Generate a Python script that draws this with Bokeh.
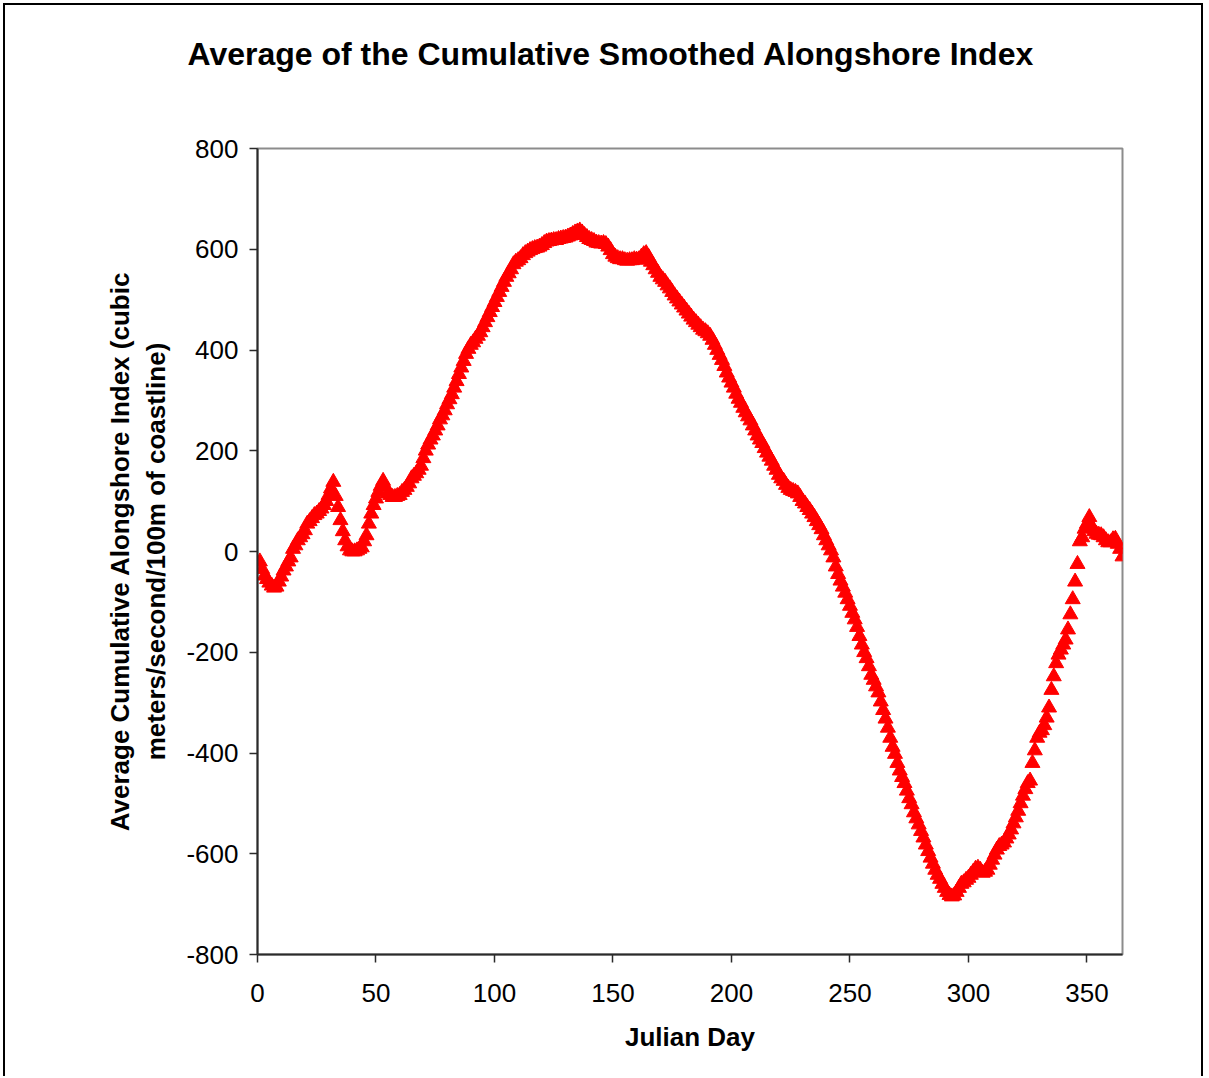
from bokeh.plotting import figure
from bokeh.models import Range1d, FixedTicker, Title, CustomJSTickFormatter
from bokeh.embed import file_html
from bokeh.resources import INLINE

# ---------------- data ----------------
julian_day = list(range(1, 366))

cumulative_index = [
    # 1-10
    -20, -35, -48, -55, -62, -68, -72, -70, -60, -50,
    # 11-20
    -38, -30, -20, -12, 5, 12, 22, 28, 34, 42,
    # 21-30
    55, 60, 66, 72, 75, 80, 85, 92, 100, 112,
    # 31-40
    125, 138, 110, 88, 62, 40, 22, 10, 2, 0,
    # 41-50
    0, 2, 5, 8, 20, 32, 55, 75, 92, 105,
    # 51-60
    118, 130, 140, 128, 115, 112, 108, 108, 110, 112,
    # 61-70
    118, 122, 128, 135, 145, 150, 155, 162, 170, 185,
    # 71-80
    200, 212, 222, 230, 240, 250, 262, 270, 280, 292,
    # 81-90
    302, 312, 325, 338, 352, 365, 378, 392, 402, 410,
    # 91-100
    415, 422, 428, 435, 445, 455, 465, 475, 485, 495,
    # 101-110
    505, 515, 525, 535, 545, 552, 560, 570, 575, 578,
    # 111-120
    582, 588, 592, 595, 598, 600, 602, 603, 605, 608,
    # 121-130
    612, 615, 616, 617, 618, 618, 620, 621, 622, 623,
    # 131-140
    625, 627, 630, 633, 635, 637, 633, 628, 624, 620,
    # 141-150
    618, 616, 613, 612, 611, 612, 610, 605, 598, 590,
    # 151-160
    585, 582, 580, 580, 578, 577, 578, 578, 580, 579,
    # 161-170
    580, 585, 590, 592, 585, 575, 568, 560, 553, 545,
    # 171-180
    540, 535, 528, 522, 515, 508, 502, 496, 490, 484,
    # 181-190
    478, 472, 466, 460, 455, 450, 445, 440, 437, 433,
    # 191-200
    428, 420, 410, 400, 390, 380, 368, 355, 345, 335,
    # 201-210
    325, 313, 303, 295, 285, 276, 268, 260, 250, 240,
    # 211-220
    230, 222, 215, 205, 196, 188, 180, 170, 162, 152,
    # 221-230
    145, 140, 132, 126, 122, 120, 118, 115, 108, 100,
    # 231-240
    95, 88, 82, 75, 68, 60, 52, 44, 32, 22,
    # 241-250
    12, 2, -12, -30, -45, -58, -70, -82, -95, -108,
    # 251-260
    -122, -135, -150, -168, -185, -200, -212, -228, -245, -255,
    # 261-270
    -268, -280, -298, -315, -332, -350, -370, -388, -402, -420,
    # 271-280
    -435, -448, -460, -475, -490, -502, -518, -530, -542, -555,
    # 281-290
    -568, -582, -595, -608, -620, -632, -642, -650, -660, -668,
    # 291-300
    -676, -682, -685, -683, -676, -668, -660, -657, -652, -648,
    # 301-310
    -642, -636, -630, -628, -632, -638, -636, -632, -622, -612,
    # 311-320
    -602, -592, -585, -582, -578, -570, -562, -552, -540, -528,
    # 321-330
    -515, -500, -485, -472, -460, -455, -420, -395, -370, -360,
    # 331-340
    -355, -345, -330, -310, -275, -248, -222, -205, -195, -185,
    # 341-350
    -175, -155, -125, -95, -60, -25, 20, 28, 45, 55,
    # 351-360
    68, 50, 40, 35, 33, 32, 28, 22, 18, 18,
    # 361-365
    24, 25, 15, 5, -10,
]

x_ticks = [0, 50, 100, 150, 200, 250, 300, 350]
y_ticks = [-800, -600, -400, -200, 0, 200, 400, 600, 800]

title_text = "Average of the Cumulative Smoothed Alongshore Index"
x_label = "Julian Day"
y_label = "Average Cumulative Alongshore Index (cubic\nmeters/second/100m of coastline)"

# ---------------- layout ----------------
FONT = "Liberation Sans"
X0, X1 = 0, 365
Y0, Y1 = -800, 800
W, H = 1200, 1073
BL, BT = 252, 143          # frame left/top inside the canvas
FW, FH = 865, 806          # frame size

p = figure(
    width=W, height=H,
    x_range=Range1d(X0, X1), y_range=Range1d(Y0, Y1),
    output_backend="svg", toolbar_location=None,
    min_border_left=BL, min_border_top=BT,
    min_border_right=W - BL - FW, min_border_bottom=H - BT - FH,
    background_fill_color="white", border_fill_color="white",
)
p.styles = {
    "margin-left": "3px",
    "margin-top": "3px",
    "border-left": "2px solid black",
    "border-top": "2px solid black",
    "border-right": "2px solid black",
}

p.outline_line_color = "#8c8c8c"
p.outline_line_width = 2
p.xgrid.grid_line_color = None
p.ygrid.grid_line_color = None

for ax in (p.xaxis[0], p.yaxis[0]):
    ax.axis_line_color = "#2a2a2a"
    ax.axis_line_width = 2
    ax.major_tick_line_color = "#2a2a2a"
    ax.major_tick_line_width = 1.5
    ax.major_tick_in = 0
    ax.major_tick_out = 8
    ax.minor_tick_line_color = None
    ax.major_label_text_font = FONT
    ax.major_label_text_font_size = "26px"
    ax.major_label_text_color = "black"
    ax.axis_label_text_font = FONT
    ax.axis_label_text_font_size = "26px"
    ax.axis_label_text_font_style = "bold"
    ax.axis_label_text_color = "black"
    ax.formatter = CustomJSTickFormatter(code="return tick.toString();")

p.xaxis[0].ticker = FixedTicker(ticks=x_ticks)
p.yaxis[0].ticker = FixedTicker(ticks=y_ticks)
p.xaxis[0].major_label_standoff = 21
p.yaxis[0].major_label_standoff = 11
p.xaxis[0].axis_label = x_label
p.yaxis[0].axis_label = y_label
p.xaxis[0].axis_label_standoff = 17
p.yaxis[0].axis_label_standoff = 12

p.scatter(julian_day, cumulative_index, marker="triangle", size=15,
          fill_color="#ff0000", line_color="#ff0000", line_width=1)

# spacer (next to the frame) and the title above it
TITLE_PANEL = 94
p.add_layout(Title(text=" ", text_font_size="10px", standoff=BT - TITLE_PANEL - 2 - 12), "above")
p.add_layout(Title(text=title_text, text_font=FONT, text_font_size="32px",
                   text_font_style="bold", text_color="black",
                   align="left", offset=-70, vertical_align="middle",
                   standoff=TITLE_PANEL - 2 - 37), "above")

open("out.html", "w").write(file_html(p, INLINE))
